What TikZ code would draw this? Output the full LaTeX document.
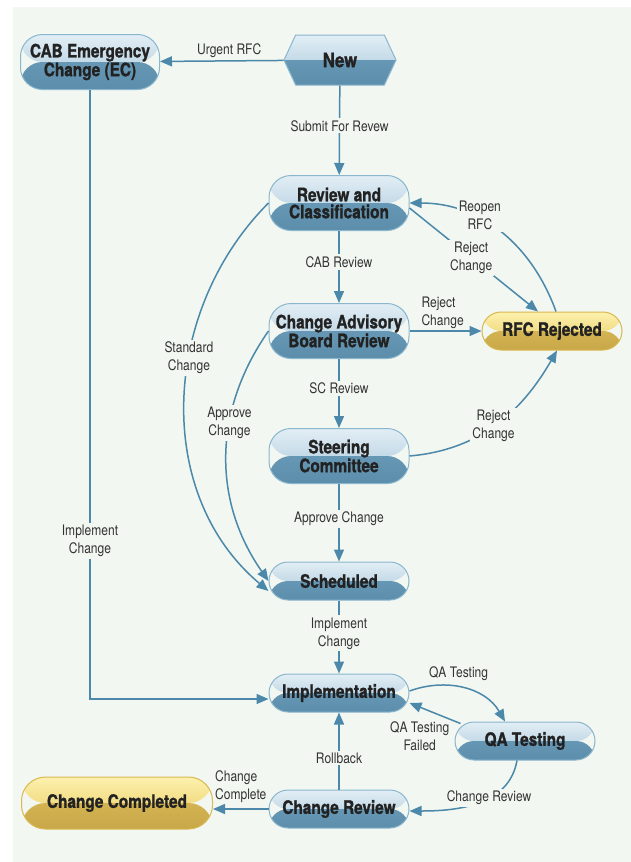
\documentclass[tikz,border=0pt]{standalone}
\usepackage{fontspec}
\setmainfont{TeX Gyre Heros}[FakeStretch=0.83, BoldFeatures={FakeBold=1.2}]
\usetikzlibrary{arrows.meta,shapes.symbols}

\definecolor{panel}{HTML}{F2F7F1}
\definecolor{blueA}{HTML}{E2EEF5}
\definecolor{blueB}{HTML}{A6C6DA}
\definecolor{blueC}{HTML}{6698B6}
\definecolor{blueD}{HTML}{5C8EAC}
\definecolor{blueedge}{HTML}{8AB6CE}
\definecolor{goldA}{HTML}{FCF1AE}
\definecolor{goldB}{HTML}{E9C85C}
\definecolor{goldC}{HTML}{D4B352}
\definecolor{goldD}{HTML}{C8A749}
\definecolor{goldedge}{HTML}{D9B84F}
\definecolor{linkcol}{HTML}{4B88A9}
\definecolor{statetext}{HTML}{222222}
\definecolor{lbltext}{HTML}{333333}

\newcommand\statefont{\bfseries\fontsize{18.5}{17}\selectfont}
\newcommand\lblfont{\fontsize{14.5}{18}\selectfont}

\tikzset{
  twotone/.style n args={4}{path picture={
      \shade[top color=#1, bottom color=#2] (path picture bounding box.north west) rectangle (path picture bounding box.east);
      \shade[top color=#3, bottom color=#4] (path picture bounding box.west) rectangle (path picture bounding box.south east);
    }},
  state/.style={draw=blueedge, line width=1pt, rounded corners=19pt,
    minimum width=140pt, minimum height=38pt, inner sep=2pt, align=center,
    font=\statefont, text=statetext, twotone={blueA}{blueB}{blueC}{blueD}},
  tallstate/.style={state, minimum height=55pt, rounded corners=22pt},
  endstate/.style={state, draw=goldedge, twotone={goldA}{goldB}{goldC}{goldD}},
  newstate/.style={state, rounded corners=0pt, shape=signal, signal to=west and east,
    signal pointer angle=130, minimum width=112pt, minimum height=50pt, font=\bfseries\fontsize{20}{20}\selectfont},
  link/.style={draw=linkcol, line width=1.5pt, -{Triangle[length=12pt,width=10pt]}},
  lbl/.style={font=\lblfont, text=lbltext, align=center, inner sep=2pt},
  onlink/.style={lbl, fill=panel},
}

\begin{document}
\begin{tikzpicture}[x=1pt,y=1pt]
  \useasboundingbox (0,0) rectangle (631,-862);
  \fill[panel] (13,-7) rectangle (631,-862);

  % states
  \node[tallstate, minimum width=139pt] (ec) at (90,-62) {CAB Emergency\\Change (EC)};
  \node[newstate] (new) at (340,-60) {New};
  \node[tallstate] (review) at (339,-203) {Review and\\Classification};
  \node[tallstate] (cab) at (339,-331) {Change Advisory\\Board Review};
  \node[endstate] (rfc) at (552,-331) {RFC Rejected};
  \node[tallstate] (sc) at (339,-456) {Steering\\Committee};
  \node[state] (sched) at (339,-581) {Scheduled};
  \node[state] (impl) at (339,-693) {Implementation};
  \node[state] (qa) at (525,-741) {QA Testing};
  \node[state] (crev) at (339,-809) {Change Review};
  \node[endstate, minimum width=191pt, minimum height=52pt, rounded corners=24pt] (done) at (117,-803) {Change Completed};

  % main column
  \draw[link] (new) -- node[lbl, above, pos=0.44] {Urgent RFC} (ec);
  \draw[link] (new) -- node[onlink, pos=0.45] {Submit For Revew} (review);
  \draw[link] (review) -- node[onlink, pos=0.43] {CAB Review} (cab);
  \draw[link] (cab) -- node[onlink, pos=0.43] {SC Review} (sc);
  \draw[link] (sc) -- node[onlink, pos=0.45] {Approve Change} (sched);
  \draw[link] (sched) -- node[onlink, pos=0.45] {Implement\\Change} (impl);
  \draw[link] (crev) -- node[onlink, pos=0.41] {Rollback} (impl);
  \draw[link] (crev.west) -- node[lbl, above=4pt, align=left] {Change\\Complete} (crev.west -| done.east);

  % rejections
  \draw[link] (cab) -- node[lbl, above, align=left, pos=0.46] {Reject\\Change} (rfc);
  \draw[link] ([yshift=-5pt]review.east) -- node[onlink, pos=0.48] {Reject\\Change} ([xshift=-14pt]rfc.north);
  \draw[link] ([xshift=4pt]rfc.north) to[out=110, in=0] node[onlink, pos=0.63, yshift=4pt] {Reopen\\RFC} (review.east);
  \draw[link] (sc.east) to[out=5, in=240] node[onlink, pos=0.48] {Reject\\Change} ([xshift=5pt]rfc.south);

  % approvals
  \draw[link] (review.west) to[out=225, in=140] node[onlink, pos=0.4] {Standard\\Change} ([yshift=-10pt]sched.west);
  \draw[link] (cab.west) to[out=235, in=125] node[onlink, pos=0.37] {Approve\\Change} (sched.west);

  % emergency path
  \draw[link] (ec.south) |- node[onlink, pos=0.37] {Implement\\Change} ([yshift=-6pt]impl.west);

  % testing loop
  \draw[link] ([yshift=2pt]impl.east) to[out=20, in=120] node[lbl, above=4pt, pos=0.45] {QA Testing} ([xshift=-20pt]qa.north);
  \draw[link] ([xshift=6pt,yshift=-2pt]qa.north west) -- node[lbl, anchor=north, pos=0.8, yshift=-12pt] {QA Testing\\Failed} ([yshift=-10pt]impl.east);
  \draw[link] ([xshift=-8pt]qa.south) to[out=260, in=0] node[onlink, pos=0.4] {Change Review} ([yshift=-2pt]crev.east);
\end{tikzpicture}
\end{document}
